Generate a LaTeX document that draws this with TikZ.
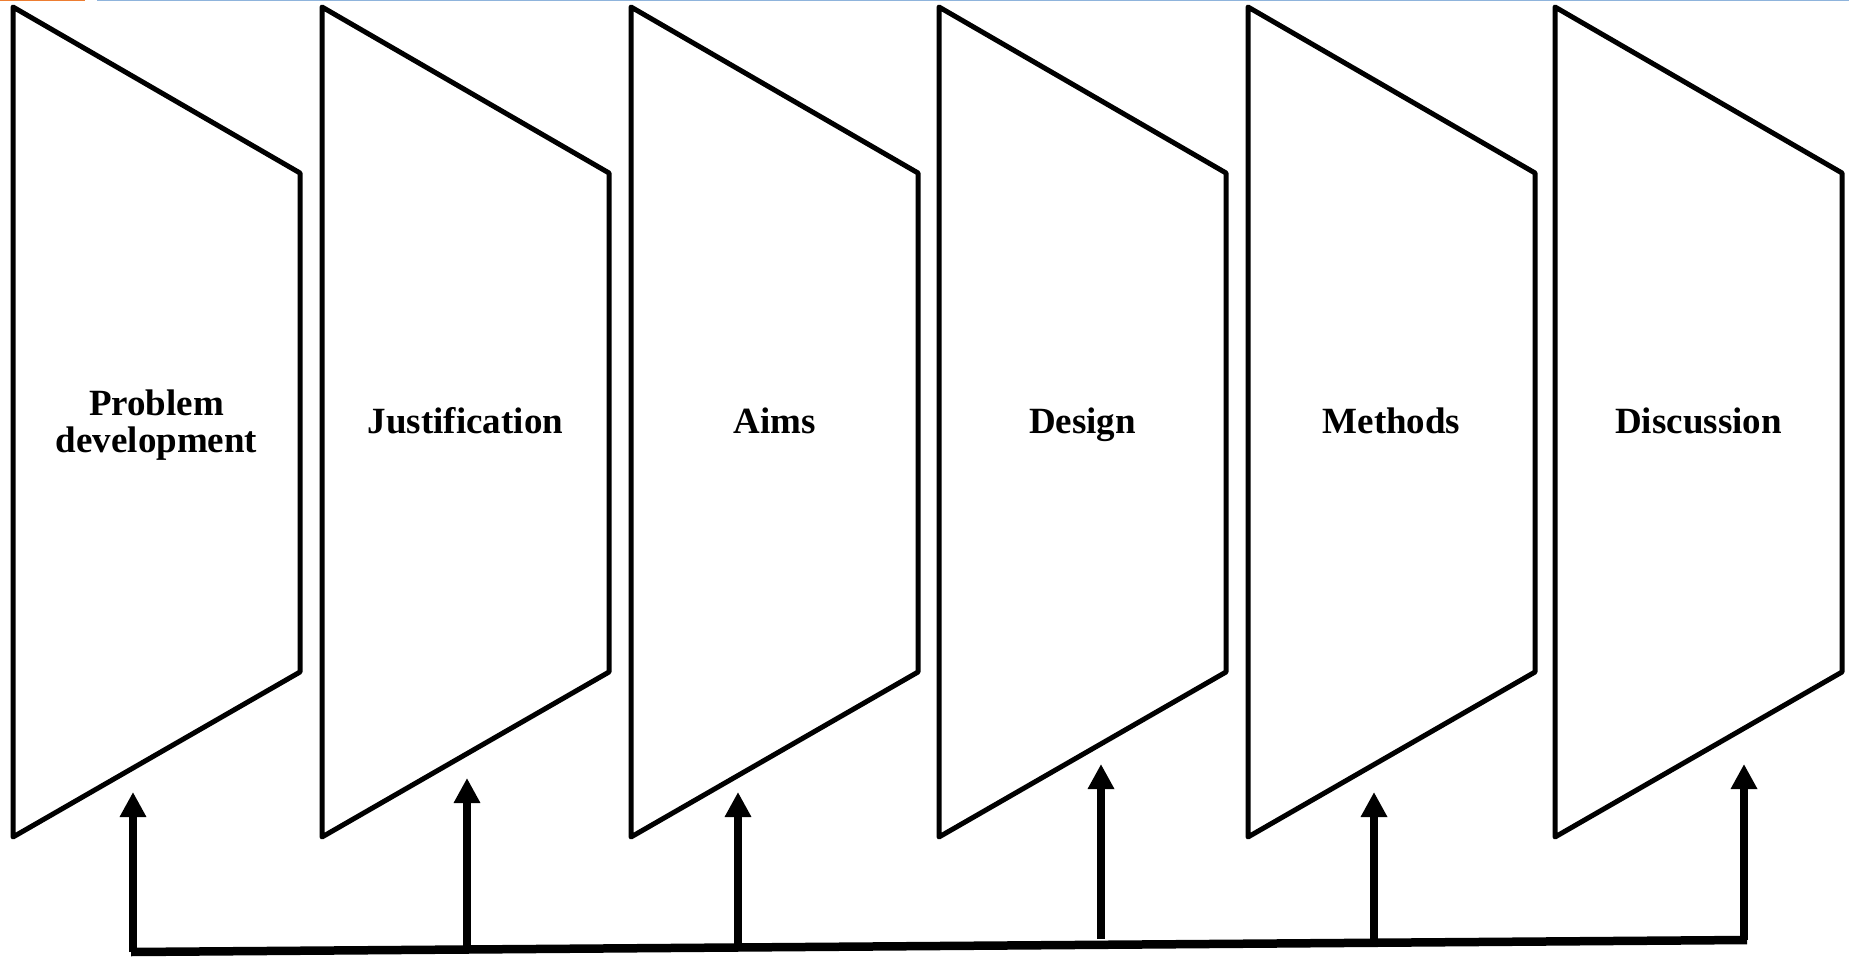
\documentclass[tikz,border=0pt]{standalone}
\usepackage{fontspec}
\setmainfont{Liberation Serif}
\usetikzlibrary{arrows.meta}
\definecolor{toporange}{RGB}{237,125,49}
\definecolor{topblue}{RGB}{143,180,220}
\tikzset{
  panel/.style={draw=black, line width=5pt, line join=round, fill=white},
  lbl/.style={font=\bfseries\fontsize{37}{37}\selectfont, align=center, inner sep=0pt, anchor=base},
  uparrow/.style={draw=black, line width=8pt, -{Triangle[width=25pt,length=25pt]}},
  baseline/.style={draw=black, line width=8.5pt}
}
\begin{document}
\begin{tikzpicture}[x=1pt,y=-1pt]
\useasboundingbox (0,0) rectangle (1849,957);
\fill[white] (0,0) rectangle (1849,957);
% top rules
\draw[toporange, line width=1.5pt] (0,0.75) -- (85,0.75);
\draw[topblue, line width=1.5pt] (97,0.75) -- (1849,0.75);
% panels
\foreach \L/\name/\txt/\by in {13/p1/{Problem\\development}/452, 322/p2/{Justification}/433, 631/p3/{Aims}/433, 939/p4/{Design}/433, 1248/p5/{Methods}/433, 1555/p6/{Discussion}/433} {
  \draw[panel] (\L,7) -- (\L+287,173) -- (\L+287,672) -- (\L,837) -- cycle;
  \node[lbl] (\name) at (\L+143.5,\by) {\txt};
}
% base line
\coordinate (bl) at (131,952);
\coordinate (br) at (1747,940);
\draw[baseline] (bl) -- (br);
% arrow feet and tips
\coordinate (f1) at (133,952);   \coordinate (t1) at (133,792);
\coordinate (f2) at (467,949.5); \coordinate (t2) at (467,778);
\coordinate (f3) at (738,947.5); \coordinate (t3) at (738,792);
\coordinate (f4) at (1101,939);  \coordinate (t4) at (1101,764);
\coordinate (f5) at (1374,942.8);\coordinate (t5) at (1374,792);
\coordinate (f6) at (1744,940);  \coordinate (t6) at (1744,764);
\foreach \i in {1,...,6} {
  \draw[uparrow] (f\i) -- (t\i);
}
\end{tikzpicture}
\end{document}
